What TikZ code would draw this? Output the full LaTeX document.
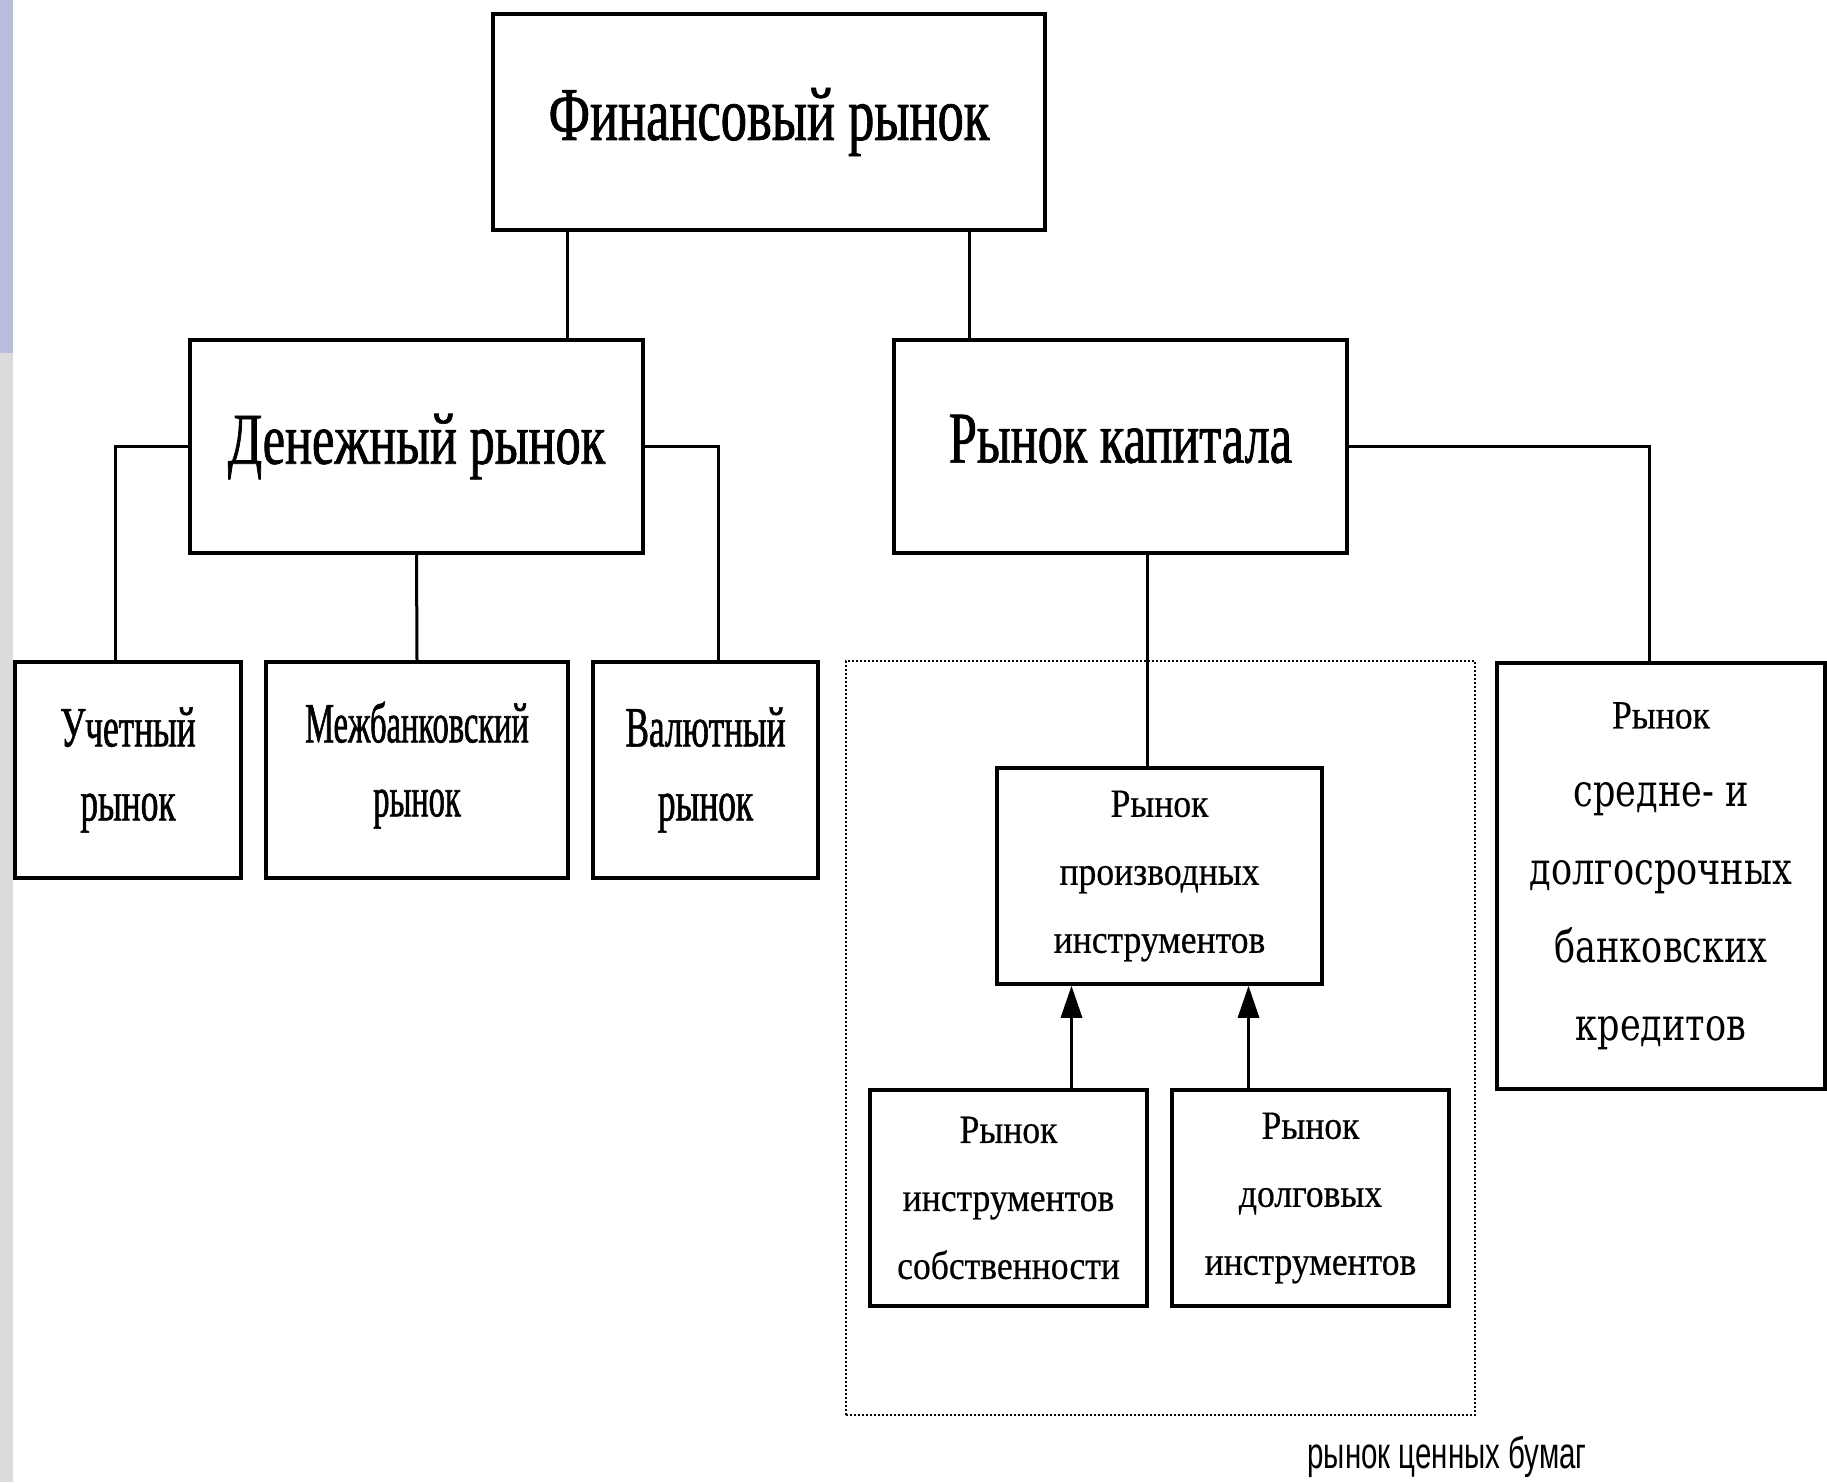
\documentclass[tikz,border=0pt]{standalone}
\usepackage{fontspec}
\setmainfont{Liberation Serif}
\newfontfamily\fbig[FakeStretch=0.69,FakeBold=1]{Liberation Serif}
\newfontfamily\fmid[FakeStretch=0.62,FakeBold=1]{Liberation Serif}
\newfontfamily\fmidn[FakeStretch=0.57,FakeBold=1]{Liberation Serif}
\newfontfamily\fsmall[FakeStretch=0.89,FakeBold=0.5]{Liberation Serif}
\newfontfamily\fslab[FakeStretch=0.78]{DejaVu Serif}
\newfontfamily\flabel[FakeStretch=0.67]{Liberation Sans}
\usetikzlibrary{arrows.meta}
\definecolor{stripblue}{HTML}{B9BEDC}
\definecolor{stripgray}{HTML}{DCDCDC}
\begin{document}
\begin{tikzpicture}[x=1pt,y=-1pt,
  box/.style={draw, line width=3.5pt, inner sep=0pt, align=center},
  bigtxt/.style={font=\fbig\fontsize{73}{80}\selectfont},
  midtxt/.style={font=\fmid\fontsize{57}{74}\selectfont},
  smalltxt/.style={font=\fsmall\fontsize{40}{68}\selectfont},
  slabtxt/.style={font=\fslab\fontsize{45}{78}\selectfont},
  link/.style={line width=3pt},
  uparrow/.style={line width=3pt, -{Triangle[length=32pt,width=21pt]}},
  secframe/.style={draw, line width=2.2pt, dash pattern=on 2pt off 2pt, inner sep=0pt}
]
\useasboundingbox (0,0) rectangle (1827,1482);
\fill[white] (0,0) rectangle (1827,1482);
\fill[stripblue] (0,0) rectangle (13,353);
\fill[stripgray] (0,353) rectangle (13,1482);

% boxes
\node[box, font=\fbig\fontsize{76}{80}\selectfont, minimum width=552pt, minimum height=216pt] (fin) at (769,122) {Финансовый рынок};
\node[box, bigtxt, minimum width=453pt, minimum height=213pt] (den) at (416.5,446.5) {Денежный рынок};
\node[box, bigtxt, minimum width=453pt, minimum height=213pt] (cap) at (1120.5,446.5) {Рынок капитала\vphantom{р}};

\node[box, midtxt, minimum width=226pt, minimum height=216pt] (uch) at (128,770) {Учетный\\рынок};
\node[box, font=\fmidn\fontsize{57}{74}\selectfont, minimum width=302pt, minimum height=216pt, text depth=22pt] (mezh) at (417,770) {Межбанковский\\рынок};
\node[box, midtxt, minimum width=225pt, minimum height=216pt] (val) at (705.5,770) {Валютный\\рынок};

\node[secframe, minimum width=629pt, minimum height=754pt] (sec) at (1160.5,1038) {};
\node[anchor=base, font=\flabel\fontsize{44}{50}\selectfont] (seclbl) at (1447,1468) {рынок ценных бумаг};

\node[box, smalltxt, minimum width=325pt, minimum height=216pt] (proizv) at (1159.5,876) {Рынок\\производных\\инструментов};
\node[box, smalltxt, minimum width=277pt, minimum height=216pt] (sobstv) at (1008.5,1198) {Рынок\\инструментов\\собственности};
\node[box, smalltxt, minimum width=277pt, minimum height=216pt] (dolg) at (1310.5,1198) {Рынок\\долговых\\инструментов};

\node[box, slabtxt, minimum width=328pt, minimum height=426pt] (kred) at (1661,876)
  {{\fsmall\fontsize{40}{78}\selectfont Рынок}\\средне- и\\долгосрочных\\банковских\\кредитов};

% connector positions
\coordinate (xa) at (567,0);
\coordinate (xb) at (969.5,0);
\coordinate (xc) at (115,0);
\coordinate (xd) at (718,0);
\coordinate (xe) at (1147,0);
\coordinate (xf) at (1649,0);
\coordinate (xg) at (1071.5,0);
\coordinate (xh) at (1248.5,0);

\draw[link] (fin.south -| xa) -- (den.north -| xa);
\draw[link] (fin.south -| xb) -- (cap.north -| xb);
\draw[link] (den.west) -| (uch.north -| xc);
\draw[link] (den.east) -| (val.north -| xd);
\draw[link] (den.south) -- (mezh.north);
\draw[link] (cap.south -| xe) -- (proizv.north -| xe);
\draw[link] (cap.east) -| (kred.north -| xf);
\draw[uparrow] (sobstv.north -| xg) -- (proizv.south -| xg);
\draw[uparrow] (dolg.north -| xh) -- (proizv.south -| xh);
\end{tikzpicture}
\end{document}
